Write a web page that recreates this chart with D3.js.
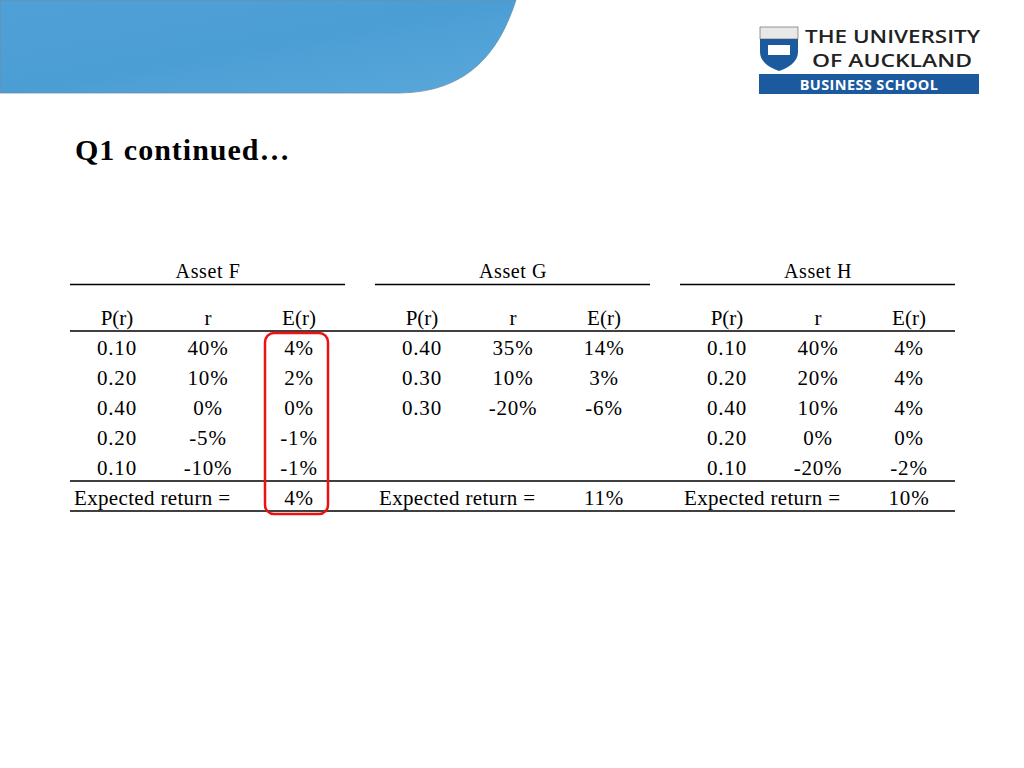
<!DOCTYPE html>
<html><head><meta charset="utf-8">
<script src="https://cdn.jsdelivr.net/npm/d3@7"></script>
<style>body{margin:0;background:#fff}svg{display:block}</style>
</head><body>
<script>
// table contents
var assets = ["Asset F", "Asset G", "Asset H"];
var colHeads = ["P(r)", "r", "E(r)"];
var probF = ["0.10", "0.20", "0.40", "0.20", "0.10"];
var retF = ["40%", "10%", "0%", "-5%", "-10%"];
var expF = ["4%", "2%", "0%", "-1%", "-1%"];
var probG = ["0.40", "0.30", "0.30"];
var retG = ["35%", "10%", "-20%"];
var expG = ["14%", "3%", "-6%"];
var probH = ["0.10", "0.20", "0.40", "0.20", "0.10"];
var retH = ["40%", "20%", "10%", "0%", "-20%"];
var expH = ["4%", "4%", "4%", "0%", "-2%"];
var totals = ["4%", "11%", "10%"];

var tables = [[probF, retF, expF], [probG, retG, expG], [probH, retH, expH]];

var W = 1024, H = 768;
var svg = d3.select("body").append("svg").attr("width", W).attr("height", H);

// header blue shape
var defs = svg.append("defs");
var g1 = defs.append("linearGradient").attr("id", "sky").attr("x1", 0).attr("x2", 1).attr("y1", 0).attr("y2", 1);
g1.append("stop").attr("offset", 0).attr("stop-color", "#4fa0d6");
g1.append("stop").attr("offset", 0.5).attr("stop-color", "#4b9ed4");
g1.append("stop").attr("offset", 1).attr("stop-color", "#5aa8db");
svg.append("path").attr("d", "M0,0 L516,0 C500,50 470,92 400,93 L0,93 Z")
  .attr("fill", "url(#sky)").attr("stroke", "#6f8ea6").attr("stroke-width", 0.8);

// logo
var logo = svg.append("g");
var lf = "Open Sans, DejaVu Sans, sans-serif";
logo.append("path").attr("d", "M760,27 L798,27 L798,52 C798,62 788,68 779,71 C770,68 760,62 760,52 Z").attr("fill", "#1c5aa0");
logo.append("rect").attr("x", 760).attr("y", 27).attr("width", 38).attr("height", 12).attr("fill", "#e8e8e8").attr("stroke", "#555").attr("stroke-width", 0.6);
logo.append("rect").attr("x", 768).attr("y", 45).attr("width", 22).attr("height", 10).attr("fill", "#fff");
logo.append("text").attr("x", 805).attr("y", 43).attr("font-family", lf).attr("font-size", 17.5).attr("font-weight", 600).attr("textLength", 175).attr("lengthAdjust", "spacingAndGlyphs").attr("fill", "#222").text("THE UNIVERSITY");
logo.append("text").attr("x", 812).attr("y", 67).attr("font-family", lf).attr("font-size", 17.5).attr("font-weight", 600).attr("textLength", 160).attr("lengthAdjust", "spacingAndGlyphs").attr("fill", "#222").text("OF AUCKLAND");
logo.append("rect").attr("x", 759).attr("y", 74).attr("width", 220).attr("height", 20).attr("fill", "#1c5aa0");
logo.append("text").attr("x", 869).attr("y", 89.5).attr("text-anchor", "middle").attr("font-family", lf).attr("font-size", 14.5).attr("font-weight", 700).attr("letter-spacing", 0.4).attr("fill", "#fff").text("BUSINESS SCHOOL");

// title
svg.append("text").attr("x", 75).attr("y", 160).attr("font-family", "Liberation Serif, serif")
  .attr("font-size", 30).attr("font-weight", 700).attr("letter-spacing", 1).text("Q1 continued\u2026");

var font = "Liberation Serif, Times New Roman, serif";
var groupX = d3.scaleBand().domain(assets).range([70, 985]).paddingInner(0);
var colX = d3.scalePoint().domain(colHeads).range([47, 229]);
var rowY = d3.scaleLinear().domain([0, 5]).range([348, 498]);

assets.forEach(function (a, gi) {
  var gx = groupX(a);
  var g = svg.append("g").attr("transform", "translate(" + gx + ",0)");
  g.append("text").attr("x", 138).attr("y", 278).attr("text-anchor", "middle")
    .attr("font-family", font).attr("font-size", 20).attr("letter-spacing", 0.6).text(a);
  g.append("line").attr("x1", 0).attr("x2", 275).attr("y1", 284.5).attr("y2", 284.5).attr("stroke", "#000").attr("stroke-width", 1.5);
  g.selectAll("text.h").data(colHeads).enter().append("text")
    .attr("x", function (d) { return colX(d); }).attr("y", 325).attr("text-anchor", "middle")
    .attr("font-family", font).attr("font-size", 21).text(function (d) { return d; });
  tables[gi].forEach(function (col, ci) {
    g.selectAll(null).data(col).enter().append("text")
      .attr("x", colX(colHeads[ci])).attr("y", function (d, i) { return rowY(i) + 7; })
      .attr("text-anchor", "middle").attr("font-family", font).attr("font-size", 21)
      .attr("letter-spacing", 0.8)
      .text(function (d) { return d; });
  });
  g.append("text").attr("x", 4).attr("y", rowY(5) + 7).attr("font-family", font).attr("font-size", 21)
    .attr("textLength", 156).attr("lengthAdjust", "spacing").text("Expected return =");
  g.append("text").attr("x", colX("E(r)")).attr("y", rowY(5) + 7).attr("text-anchor", "middle")
    .attr("font-family", font).attr("font-size", 21).attr("letter-spacing", 0.8).text(totals[gi]);
});

[331, 481, 511].forEach(function (y) {
  svg.append("line").attr("x1", 70).attr("x2", 955).attr("y1", y).attr("y2", y).attr("stroke", "#000").attr("stroke-width", 1.5);
});

// highlight box around Asset F E(r)
svg.append("rect").attr("x", 265).attr("y", 333).attr("width", 63).attr("height", 181).attr("rx", 9)
  .attr("fill", "none").attr("stroke", "#e11").attr("stroke-width", 2.5);
</script>
</body></html>
